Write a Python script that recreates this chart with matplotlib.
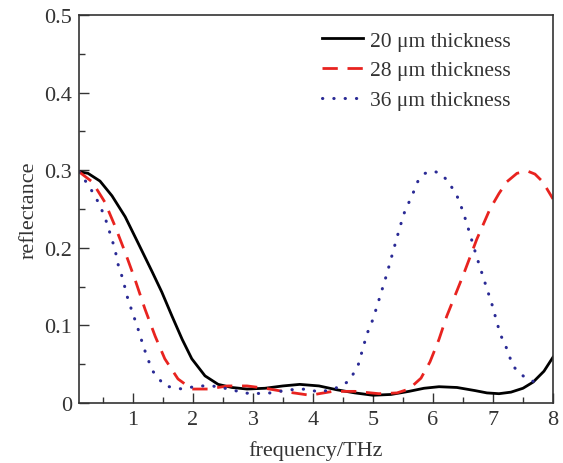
import matplotlib
matplotlib.use("Agg")
import matplotlib.pyplot as plt
from matplotlib.ticker import MultipleLocator

# frequency (THz) / reflectance
f20 = [0.1, 0.25, 0.45, 0.65, 0.87, 1.08, 1.32, 1.48, 1.65, 1.82, 1.98, 2.2, 2.42, 2.65, 2.9, 3.2, 3.5, 3.78, 4.1, 4.4, 4.7, 5.0, 5.3, 5.6, 5.85, 6.1, 6.4, 6.7, 6.9, 7.1, 7.3, 7.5, 7.67, 7.85, 8.0]
r20 = [0.298, 0.296, 0.286, 0.267, 0.240, 0.207, 0.169, 0.143, 0.112, 0.082, 0.057, 0.035, 0.024, 0.020, 0.018, 0.019, 0.022, 0.024, 0.022, 0.017, 0.013, 0.010, 0.011, 0.015, 0.019, 0.021, 0.020, 0.016, 0.013, 0.012, 0.014, 0.019, 0.027, 0.041, 0.059]

f28 = [0.1, 0.32, 0.53, 0.70, 0.87, 1.03, 1.2, 1.37, 1.53, 1.75, 1.98, 2.25, 2.58, 2.9, 3.2, 3.5, 3.95, 4.33, 4.7, 5.1, 5.4, 5.6, 5.8, 5.95, 6.1, 6.23, 6.5, 6.73, 6.95, 7.1, 7.23, 7.4, 7.57, 7.7, 7.83, 8.0]
r28 = [0.298, 0.285, 0.259, 0.228, 0.194, 0.160, 0.121, 0.086, 0.057, 0.031, 0.018, 0.018, 0.022, 0.022, 0.019, 0.015, 0.010, 0.015, 0.015, 0.012, 0.013, 0.018, 0.032, 0.053, 0.082, 0.112, 0.164, 0.211, 0.250, 0.270, 0.285, 0.296, 0.299, 0.295, 0.285, 0.263]

f36 = [0.1, 0.28, 0.42, 0.53, 0.62, 0.70, 0.75, 0.83, 0.90, 0.98, 1.07, 1.15, 1.23, 1.33, 1.53, 1.82, 2.08, 2.32, 2.6, 2.85, 3.0, 3.3, 3.6, 3.9, 4.1, 4.35, 4.6, 4.75, 4.9, 5.0, 5.08, 5.23, 5.37, 5.45, 5.53, 5.65, 5.75, 5.87, 6.0, 6.12, 6.25, 6.4, 6.5, 6.58, 6.73, 6.9, 6.98, 7.12, 7.23, 7.33, 7.45, 7.57, 7.7, 7.82]
r36 = [0.298, 0.278, 0.259, 0.240, 0.218, 0.198, 0.179, 0.160, 0.138, 0.119, 0.099, 0.079, 0.060, 0.041, 0.022, 0.018, 0.022, 0.022, 0.018, 0.013, 0.012, 0.013, 0.017, 0.018, 0.014, 0.018, 0.028, 0.048, 0.089, 0.108, 0.128, 0.166, 0.205, 0.227, 0.247, 0.267, 0.286, 0.296, 0.299, 0.296, 0.286, 0.267, 0.247, 0.227, 0.188, 0.147, 0.128, 0.089, 0.070, 0.048, 0.038, 0.031, 0.027, 0.024]

labels = ["20 \u03bcm thickness", "28 \u03bcm thickness", "36 \u03bcm thickness"]

plt.rcParams['font.family'] = ['Liberation Serif', 'DejaVu Serif']

fig = plt.figure(figsize=(5.63, 4.64), dpi=100)
ax = fig.add_axes([0.1403, 0.1293, 0.8419, 0.8362])

ax.plot(f20, r20, color='black', lw=2.0, label=labels[0])
ax.plot(f28, r28, color='#e8231f', lw=2.0, dashes=(5.5, 3.5), label=labels[1])
ax.plot(f36, r36, color='#2a2a95', lw=2.2, linestyle=(0, (0.1, 3.6)), dash_capstyle='round', label=labels[2])

ax.set_xlim(0.1, 8)
ax.set_ylim(0, 0.5)
ax.xaxis.set_minor_locator(MultipleLocator(0.5))
ax.yaxis.set_minor_locator(MultipleLocator(0.05))
ax.set_xticks([1, 2, 3, 4, 5, 6, 7, 8])
ax.set_yticks([0, 0.1, 0.2, 0.3, 0.4, 0.5])
ax.set_yticklabels(['0', '0.1', '0.2', '0.3', '0.4', '0.5'])
ax.tick_params(which='both', direction='in', top=False, right=False, labelsize=16, colors='#333333')
ax.tick_params(which='major', length=7, width=1, pad=5)
ax.tick_params(which='minor', length=4, width=1)
for s in ax.spines.values():
    s.set_linewidth(1.2)
    s.set_color('#333333')

ax.set_xlabel('frequency/THz', fontsize=16, color='#333333', labelpad=8)
ax.set_ylabel('reflectance', fontsize=16, color='#333333', labelpad=4)

leg = ax.legend(loc='upper right', bbox_to_anchor=(0.93, 0.982), frameon=False, fontsize=15.5,
                handlelength=1.9, handletextpad=0.35, labelspacing=0.45, borderaxespad=0.0)
for t in leg.get_texts():
    t.set_color('#333333')

fig.savefig('out.png', dpi=100)
